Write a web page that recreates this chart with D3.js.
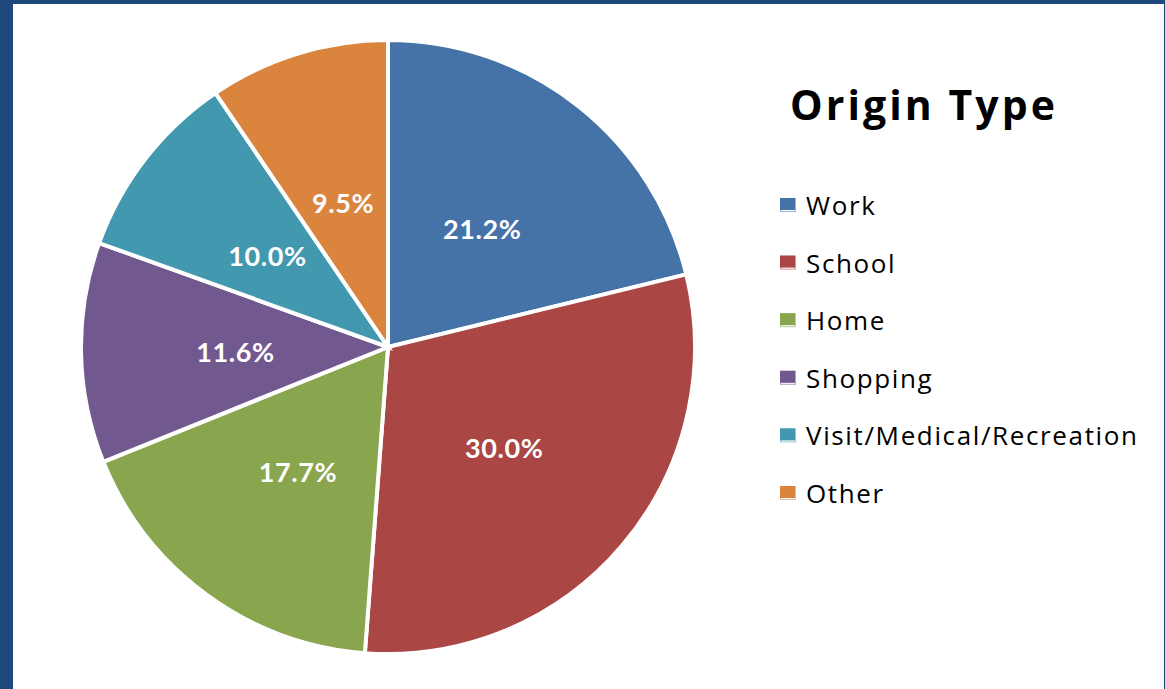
<!DOCTYPE html>
<html>
<head>
<meta charset="utf-8">
<script src="https://cdn.jsdelivr.net/npm/d3@7"></script>
<style>
  html, body { margin: 0; padding: 0; background: #ffffff; }
  svg { display: block; }
</style>
</head>
<body>
<svg id="chart" width="1165" height="689"></svg>
<script>
// Origin type shares (percent of trips)
const categories = ["Work", "School", "Home", "Shopping", "Visit/Medical/Recreation", "Other"];
const shares = [21.2, 30.0, 17.7, 11.6, 10.0, 9.5];
const colors = ["#4572A7", "#AA4643", "#89A54E", "#71588F", "#4198AF", "#DB843D"];
const title = "Origin Type";

const W = 1165, H = 689;
const svg = d3.select("#chart");

// dark blue frame on the left, top and right
svg.append("rect").attr("x", 0).attr("y", 0).attr("width", W).attr("height", H).attr("fill", "#1F497D");
svg.append("rect").attr("x", 13).attr("y", 4).attr("width", W - 13 - 1).attr("height", H - 4).attr("fill", "#ffffff");

// pie
const cx = 388, cy = 347, radius = 307;
const color = d3.scaleOrdinal().domain(categories).range(colors);
const data = categories.map((c, i) => ({ cat: c, value: shares[i] }));
const pie = d3.pie().value(d => d.value).sort(null);
const arc = d3.arc().innerRadius(0).outerRadius(radius);
const labelArc = d3.arc().innerRadius(0).outerRadius(radius - 2);

const g = svg.append("g").attr("transform", `translate(${cx},${cy})`);
const arcs = pie(data);

g.selectAll("path.slice")
  .data(arcs)
  .join("path")
  .attr("class", "slice")
  .attr("d", arc)
  .attr("fill", d => color(d.data.cat))
  .attr("stroke", "#ffffff")
  .attr("stroke-width", 4)
  .attr("stroke-linejoin", "miter");

g.selectAll("text.pct")
  .data(arcs)
  .join("text")
  .attr("class", "pct")
  .attr("x", d => labelArc.centroid(d)[0])
  .attr("y", d => labelArc.centroid(d)[1] + 12)
  .attr("text-anchor", "middle")
  .attr("font-family", "Lato, 'Open Sans', sans-serif")
  .attr("font-weight", "bold")
  .attr("font-size", 27)
  .attr("letter-spacing", 0.6)
  .attr("fill", "#ffffff")
  .text(d => d3.format(".1f")(d.data.value) + "%");

// title
svg.append("text")
  .attr("x", 790)
  .attr("y", 120)
  .attr("font-family", "'Open Sans', Lato, sans-serif")
  .attr("font-weight", "bold")
  .attr("font-size", 41)
  .attr("textLength", 265)
  .attr("lengthAdjust", "spacing")
  .attr("fill", "#000000")
  .text(title);

// legend
const legendY = d3.scalePoint().domain(categories).range([215, 503]);
const legend = svg.append("g");
const items = legend.selectAll("g.item")
  .data(categories)
  .join("g")
  .attr("class", "item")
  .attr("transform", d => `translate(780,${legendY(d)})`);

items.append("rect")
  .attr("x", 0.5).attr("y", -16.5)
  .attr("width", 15).attr("height", 13)
  .attr("fill", "none")
  .attr("stroke", d => d3.interpolateRgb(color(d), "#ffffff")(0.45))
  .attr("stroke-width", 1);
items.append("rect")
  .attr("x", 0).attr("y", -17)
  .attr("width", 15).attr("height", 12)
  .attr("fill", d => color(d));

const labels = items.append("text")
  .attr("x", 26)
  .attr("y", 0)
  .attr("font-family", "'Open Sans', Lato, sans-serif")
  .attr("font-size", 26)
  .attr("fill", "#000000")
  .text(d => d);

// widen spacing so the longest entry spans its column
const longest = labels.filter(d => d === "Visit/Medical/Recreation").node();
const natural = longest.getComputedTextLength();
const ls = Math.max(0, (331 - natural) / (longest.textContent.length - 1));
labels.attr("letter-spacing", ls);
</script>
</body>
</html>
